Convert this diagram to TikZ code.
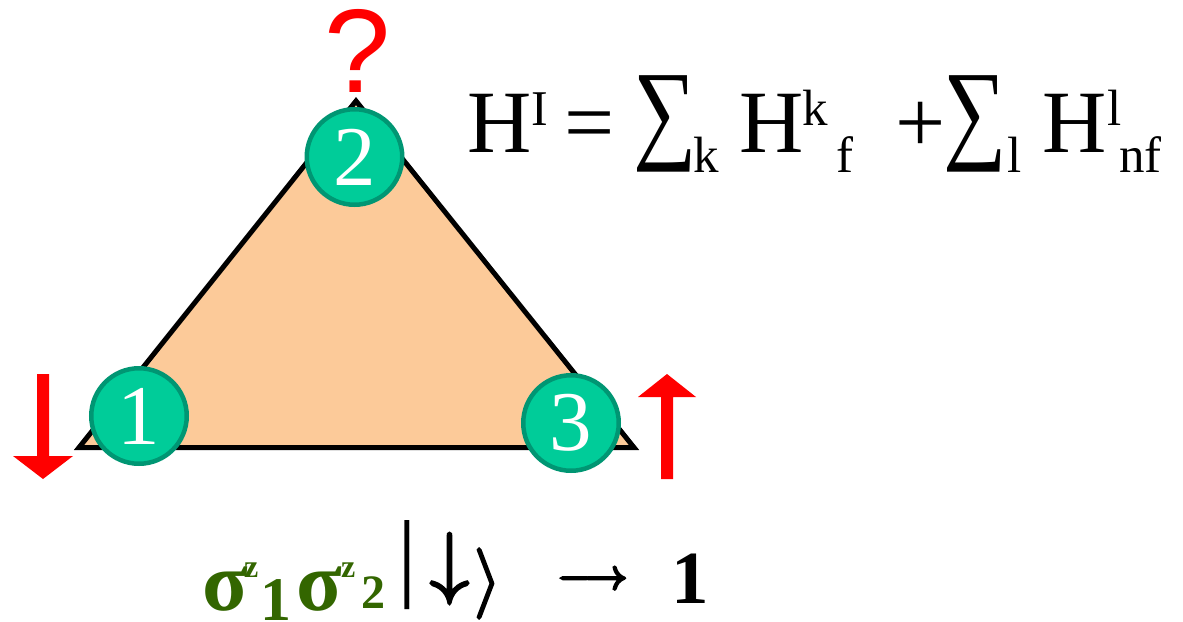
\RequirePackage{fix-cm}
\documentclass[tikz,border=0pt]{standalone}
\usepackage{fontspec}
\setmainfont{Liberation Serif}
\newfontfamily\qfont{Liberation Sans}
\definecolor{peach}{RGB}{252,202,153}
\definecolor{sitefill}{RGB}{0,204,153}
\definecolor{siteedge}{RGB}{0,150,115}
\definecolor{sgreen}{RGB}{51,102,0}
\newcommand\piece[5]{\node[txt,font=\fontsize{#4}{#4}\selectfont] (#1) at (#2,#3) {#5};}
\newcommand\heavy[2]{\special{pdf:literal direct 2 Tr #1 w}#2\special{pdf:literal direct 0 Tr 1 w}}
\newcommand\mpiece[4]{\node[inner sep=0pt, outer sep=0pt, font=\fontsize{#3}{#3}\selectfont] (#1) at (#2) {#4};}
\begin{document}
\begin{tikzpicture}[x=1pt,y=-1pt,
  txt/.style={anchor=base west, inner sep=0pt, outer sep=0pt},
  site/.style={circle, fill=sitefill, draw=siteedge, line width=4.5pt, minimum size=95.5pt, inner sep=0pt, text=white, font=\fontsize{85}{85}\selectfont},
  spin/.style={fill=red}]
\useasboundingbox[fill=white] (0,0) rectangle (1183,621);
% triangle
\filldraw[fill=peach, line width=5pt, line join=miter, miter limit=10] (79,447.5) -- (356,101) -- (634,447.5) -- cycle;
% question mark
\node[txt, text=red, font=\qfont\fontsize{119}{119}\selectfont] (q) at (324,92) {?};
% sites
\node[site] (n1) at (139,416) {1};
\node[site] (n2) at (354.5,157) {2};
\node[site] (n3) at (571,423) {3};
% spins
\fill[spin] (37,374) -- (49,374) -- (49,456) -- (73,456) -- (43,479) -- (13,456) -- (37,456) -- cycle;
\fill[spin] (661,479) -- (673,479) -- (673,397) -- (696,397) -- (667,374) -- (638,397) -- (661,397) -- cycle;
% formula
\piece{h1}{467}{152}{89}{H}
\piece{s1}{531}{125}{50}{I}
\piece{eq}{564}{152}{89}{=}
\piece{sum1}{633}{148}{89}{\scalebox{1}[1.25]{∑}}
\piece{k1}{693}{172}{51}{k}
\piece{h2}{739}{152}{89}{H}
\piece{k2}{802}{125}{51}{k}
\piece{f1}{836}{172}{51}{f}
\piece{plus}{895}{152}{89}{+}
\piece{sum2}{943}{148}{89}{\scalebox{1}[1.25]{∑}}
\piece{l1}{1007}{172}{51}{l}
\piece{h3}{1042}{152}{89}{H}
\piece{l2}{1107}{125}{51}{l}
\piece{nf}{1119}{172}{51}{nf}
% bottom line
\begin{scope}[every node/.append style={text=sgreen}]
\piece{sg1}{202}{610}{84}{\bfseries σ}
\piece{z1}{244}{577}{32}{\bfseries z}
\piece{i1}{260}{620}{62}{\bfseries 1}
\piece{sg2}{296}{610}{84}{\bfseries σ}
\piece{z2}{341}{577}{32}{\bfseries z}
\piece{i2}{361}{608}{48}{\bfseries 2}
\end{scope}
\piece{bar}{397}{588}{98}{|}
\mpiece{dn}{449.5,568.5}{80}{\heavy{2.5}{$\downarrow$}}
\mpiece{ket}{487.5,583.5}{70}{\heavy{2}{$\rangle$}}
\mpiece{to}{592.5,581}{43}{\heavy{2.5}{$\longrightarrow$}}
\piece{one}{671}{603}{75}{\bfseries 1}
\end{tikzpicture}
\end{document}
